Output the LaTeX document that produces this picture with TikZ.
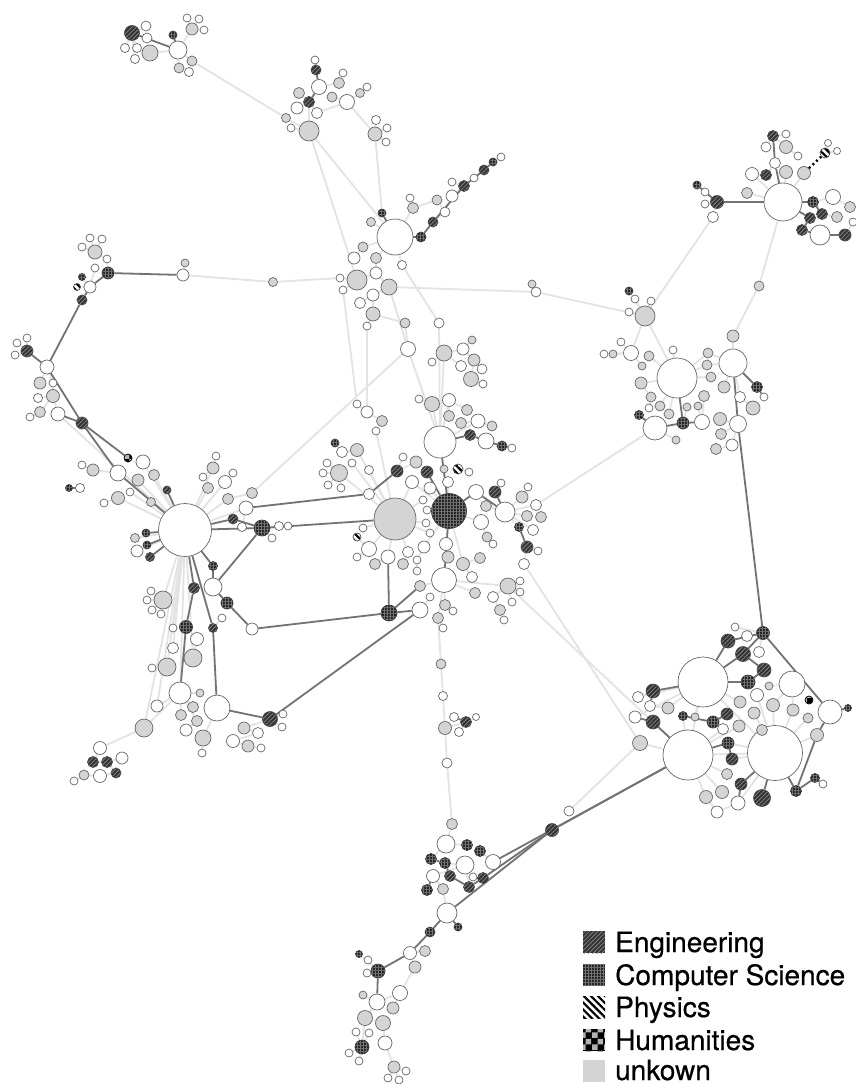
\documentclass[tikz,border=0pt]{standalone}
\usepackage{fontspec}
\newfontfamily\legfont[FakeBold=0.5]{TeX Gyre Heros}
\usetikzlibrary{patterns,patterns.meta}
\pgfdeclarelayer{bg}
\pgfdeclarelayer{edges}
\pgfsetlayers{bg,edges,main}
% \vtx{style}{diameter}{name}{x,y}
\newcommand{\vtx}[4]{\node[#1=#2] (#3) at (#4) {};}
\tikzset{
  nd/.style={circle, draw=black!60, line width=0.7pt, inner sep=0pt, minimum size=#1},
  engfill/.style={preaction={fill=black!80}, pattern={Lines[angle=45,distance=3pt,line width=0.7pt]}, pattern color=black!45},
  csfill/.style={preaction={fill=black!85}, pattern={Hatch[angle=0,distance=3pt,line width=0.45pt]}, pattern color=black!55},
  phyfill/.style={preaction={fill=white}, pattern={Lines[angle=-45,distance=5pt,line width=2.2pt]}, pattern color=black},
  humfill/.style={preaction={fill=black}, pattern=checkerboard, pattern color=white!70!black},
  wn/.style={nd=#1, fill=white},
  gn/.style={nd=#1, fill=black!17},
  en/.style={nd=#1, draw=black!70, engfill},
  cn/.style={nd=#1, draw=black!75, csfill},
  pn/.style={nd=#1, draw=black!70, phyfill},
  hn/.style={nd=#1, draw=black, humfill},
  le/.style={draw=black!11, line width=1.8pt},
  de/.style={draw=black!55, line width=1.8pt},
  lgi/.style={rectangle, inner sep=0pt, minimum size=22pt},
  lgt/.style={anchor=base west, inner sep=0pt, font=\legfont\fontsize{28}{30}\selectfont}
}
\begin{document}
\begin{tikzpicture}[x=1pt,y=-1pt]
\useasboundingbox (0,0) rectangle (856,1084);
\begin{pgfonlayer}{bg}
\fill[white] (0,0) rectangle (856,1084);
\end{pgfonlayer}

% ---- top-left group
\vtx{en}{15}{a1}{132,33}
\vtx{wn}{10}{a2}{146,26}
\vtx{wn}{10}{a3}{147,38}
\vtx{wn}{9}{a4}{125,48}
\vtx{wn}{9}{a5}{137,48}
\vtx{wn}{9}{a6}{135,59}
\vtx{gn}{16}{a7}{150,53}
\vtx{wn}{18}{a8}{178,50}
\vtx{cn}{8}{a9}{173,35}
\vtx{wn}{8}{a10}{187,18}
\vtx{wn}{8}{a11}{199,19}
\vtx{gn}{12}{a12}{192,29}
\vtx{wn}{8}{a13}{204,30}
\vtx{gn}{10}{a14}{192,61}
\vtx{gn}{10}{a15}{179,68}
\vtx{wn}{9}{a16}{189,72}

% ---- upper middle group
\vtx{wn}{8}{b1}{315,60}
\vtx{en}{10}{b2}{316,70}
\vtx{wn}{15}{b3}{319,87}
\vtx{gn}{11}{b4}{339,83}
\vtx{wn}{8}{b5}{343,73}
\vtx{en}{11}{b6}{309,102}
\vtx{wn}{12}{b7}{297,108}
\vtx{gn}{11}{b8}{299,93}
\vtx{wn}{11}{b9}{317,113}
\vtx{gn}{9}{b10}{286,118}
\vtx{wn}{8}{b11}{291,128}
\vtx{gn}{20}{b12}{309,131}
\vtx{gn}{10}{b13}{332,97}
\vtx{wn}{15}{b14}{347,102}
\vtx{gn}{9}{b15}{360,93}
\vtx{wn}{8}{b16}{367,87}
\vtx{gn}{14}{b17}{375,134}
\vtx{wn}{9}{b18}{376,120}
\vtx{wn}{8}{b19}{387,128}
\vtx{wn}{8}{b20}{386,142}

% ---- group around the white hub at (395,237)
\vtx{wn}{36}{c0}{395,237}
\vtx{cn}{8}{c1}{382,213}
\vtx{gn}{11}{c2}{413,208}
\vtx{wn}{8}{c3}{410,198}
\vtx{cn}{10}{c4}{421,237}
\vtx{en}{10}{c5}{433,222}
\vtx{wn}{10}{c6}{445,212}
\vtx{gn}{10}{c7}{437,200}
\vtx{wn}{12}{c8}{452,196}
\vtx{en}{11}{c9}{464,186}
\vtx{wn}{8}{c10}{474,178}
\vtx{en}{10}{c11}{484,170}
\vtx{cn}{8}{c12}{493,162}
\vtx{wn}{8}{c13}{501,157}
\vtx{wn}{8}{c14}{452,182}
\vtx{gn}{9}{c15}{371,222}
\vtx{gn}{10}{c16}{363,247}
\vtx{wn}{12}{c17}{354,258}
\vtx{gn}{11}{c18}{376,258}
\vtx{wn}{12}{c19}{376,273}
\vtx{gn}{16}{c20}{389,287}
\vtx{gn}{20}{c21}{357,280}
\vtx{wn}{8}{c22}{340,278}
\vtx{wn}{8}{c23}{343,290}
\vtx{wn}{12}{c24}{373,295}
\vtx{wn}{11}{c25}{360,303}
\vtx{gn}{14}{c26}{373,314}
\vtx{wn}{8}{c27}{367,326}
\vtx{wn}{9}{c28}{402,265}

% ---- long horizontal chain
\vtx{wn}{12}{m1}{183,275}
\vtx{gn}{8}{m2}{185,263}
\vtx{gn}{9}{m3}{273,282}
\vtx{wn}{10}{s1}{536,292}
\vtx{gn}{8}{s2}{532,284}

% ---- left arc
\vtx{gn}{14}{l1}{95,252}
\vtx{wn}{8}{l2}{90,238}
\vtx{wn}{8}{l3}{102,239}
\vtx{wn}{8}{l4}{82,247}
\vtx{wn}{8}{l5}{107,259}
\vtx{wn}{8}{l6}{95,268}
\vtx{cn}{12}{l7}{108,273}
\vtx{cn}{7}{l8}{82,277}
\vtx{pn}{7}{l9}{77,287}
\vtx{wn}{12}{l10}{90,287}
\vtx{en}{10}{l11}{82,300}
\vtx{en}{12}{l12}{27,351}
\vtx{wn}{8}{l13}{17,343}
\vtx{wn}{8}{l14}{27,338}
\vtx{wn}{8}{l15}{15,355}
\vtx{wn}{14}{l16}{47,367}
\vtx{gn}{12}{l17}{40,383}
\vtx{wn}{8}{l18}{53,383}
\vtx{gn}{13}{l19}{53,396}
\vtx{wn}{9}{l20}{38,398}
\vtx{gn}{11}{l21}{40,412}
\vtx{wn}{8}{l22}{30,417}
\vtx{wn}{14}{l23}{58,414}
\vtx{en}{12}{l24}{82,423}
\vtx{hn}{8}{l25}{128,458}
\vtx{wn}{14}{l26}{143,462}
\vtx{wn}{16}{l27}{118,473}
\vtx{gn}{12}{l28}{93,470}
\vtx{wn}{8}{l29}{82,465}
\vtx{gn}{12}{l30}{138,480}
\vtx{gn}{11}{l31}{154,475}
\vtx{en}{8}{l32}{167,490}
\vtx{cn}{7}{l33}{69,488}
\vtx{wn}{9}{l34}{80,488}

% ---- left hub
\vtx{wn}{53}{h}{185,530}
\vtx{cn}{8}{h1}{146,533}
\vtx{cn}{8}{h2}{147,545}
\vtx{en}{9}{h3}{150,557}
\vtx{gn}{9}{h4}{135,538}
\vtx{wn}{12}{h5}{137,551}
\vtx{en}{10}{h6}{233,519}
\vtx{wn}{14}{h7}{246,508}
\vtx{wn}{9}{h8}{242,527}
\vtx{cn}{16}{h9}{262,528}
\vtx{wn}{9}{h10}{279,526}
\vtx{wn}{8}{h11}{288,526}
\vtx{wn}{8}{h12}{272,538}
\vtx{cn}{9}{h13}{213,566}
\vtx{wn}{18}{h14}{213,587}
\vtx{en}{11}{h15}{194,588}
\vtx{cn}{12}{h16}{227,603}
\vtx{gn}{18}{h17}{163,600}
\vtx{wn}{8}{h18}{151,591}
\vtx{wn}{8}{h19}{147,600}
\vtx{wn}{8}{h20}{152,610}
\vtx{wn}{8}{h21}{161,614}
\vtx{gn}{12}{h22}{213,468}
\vtx{wn}{8}{h23}{216,456}
\vtx{wn}{8}{h24}{203,477}
\vtx{wn}{13}{h25}{225,482}
\vtx{wn}{8}{h26}{233,473}
\vtx{gn}{11}{h27}{208,488}
\vtx{gn}{11}{h28}{228,499}
\vtx{gn}{11}{h29}{252,493}
\vtx{wn}{8}{h31}{130,492}
\vtx{gn}{13}{h32}{118,498}
\vtx{wn}{8}{h33}{104,503}
\vtx{gn}{9}{h34}{151,502}

% ---- below the left hub
\vtx{wn}{8}{k1}{222,618}
\vtx{en}{9}{k2}{213,628}
\vtx{wn}{12}{k3}{252,629}
\vtx{wn}{13}{k4}{197,639}
\vtx{cn}{13}{k5}{186,627}
\vtx{wn}{8}{k6}{173,628}
\vtx{wn}{11}{k7}{173,648}
\vtx{gn}{18}{k8}{167,667}
\vtx{gn}{18}{k9}{193,658}
\vtx{wn}{8}{k10}{152,668}
\vtx{wn}{22}{k11}{180,693}
\vtx{gn}{8}{k12}{200,693}
\vtx{gn}{11}{k13}{193,707}
\vtx{gn}{11}{k14}{181,715}
\vtx{gn}{11}{k15}{197,721}
\vtx{wn}{12}{k16}{186,730}
\vtx{gn}{16}{k17}{203,738}
\vtx{wn}{8}{k18}{202,753}
\vtx{wn}{12}{k19}{157,706}
\vtx{gn}{18}{k20}{144,728}
\vtx{wn}{26}{k21}{217,708}
\vtx{en}{15}{k22}{270,719}
\vtx{wn}{8}{k23}{283,714}
\vtx{wn}{8}{k24}{282,727}
\vtx{gn}{12}{k25}{244,728}
\vtx{wn}{11}{k26}{258,733}
\vtx{wn}{13}{k27}{233,741}
\vtx{gn}{12}{k28}{248,746}
\vtx{wn}{8}{k29}{261,748}
\vtx{wn}{13}{k30}{100,748}
\vtx{en}{11}{k31}{93,762}
\vtx{en}{11}{k32}{107,762}
\vtx{wn}{12}{k33}{122,758}
\vtx{en}{10}{k34}{116,773}
\vtx{wn}{13}{k35}{100,776}
\vtx{gn}{10}{k36}{84,775}
\vtx{wn}{8}{k37}{74,781}

% ---- central group
\vtx{gn}{42}{g0}{395,519}
\vtx{cn}{35}{g1}{449,511}
\vtx{wn}{32}{d1}{440,442}
\vtx{en}{11}{d2}{470,435}
\vtx{wn}{16}{d3}{486,441}
\vtx{cn}{10}{d4}{502,446}
\vtx{wn}{8}{d5}{512,448}
\vtx{cn}{8}{d6}{335,443}
\vtx{wn}{11}{d7}{342,452}
\vtx{gn}{13}{d8}{357,450}
\vtx{wn}{8}{d9}{327,463}
\vtx{gn}{17}{d10}{339,473}
\vtx{wn}{8}{d11}{323,473}
\vtx{wn}{8}{d12}{328,485}
\vtx{wn}{8}{d13}{341,488}
\vtx{wn}{8}{d14}{352,463}
\vtx{wn}{9}{d15}{369,470}
\vtx{en}{12}{d16}{397,471}
\vtx{wn}{8}{d17}{403,457}
\vtx{gn}{12}{d18}{416,462}
\vtx{en}{12}{d19}{427,472}
\vtx{pn}{10}{d20}{458,469}
\vtx{wn}{8}{d21}{469,472}
\vtx{gn}{8}{d22}{444,469}
\vtx{wn}{13}{d23}{412,482}
\vtx{wn}{12}{d24}{430,488}
\vtx{wn}{11}{d25}{448,482}
\vtx{wn}{11}{d26}{369,494}
\vtx{wn}{8}{d27}{423,500}
\vtx{wn}{8}{d28}{427,510}
\vtx{wn}{15}{d29}{476,492}
\vtx{en}{12}{d30}{495,492}
\vtx{wn}{8}{d31}{501,483}
\vtx{wn}{20}{d32}{505,512}
\vtx{gn}{11}{d33}{486,506}
\vtx{gn}{12}{d34}{522,497}
\vtx{wn}{8}{d35}{528,487}
\vtx{wn}{11}{d36}{536,505}
\vtx{gn}{11}{d37}{527,516}
\vtx{gn}{11}{d38}{541,517}
\vtx{wn}{11}{d39}{533,530}
\vtx{cn}{9}{d40}{519,527}
\vtx{en}{12}{d41}{527,547}
\vtx{wn}{8}{d42}{538,551}
\vtx{wn}{11}{d43}{524,564}
\vtx{wn}{15}{d44}{481,522}
\vtx{gn}{10}{d45}{487,537}
\vtx{wn}{8}{d46}{493,544}
\vtx{wn}{8}{d47}{426,523}
\vtx{wn}{8}{d48}{430,533}
\vtx{wn}{12}{d49}{424,547}
\vtx{wn}{11}{d50}{408,552}
\vtx{gn}{11}{d51}{403,564}
\vtx{wn}{8}{d52}{417,560}
\vtx{wn}{8}{d53}{417,571}
\vtx{wn}{13}{d54}{446,544}
\vtx{gn}{12}{d55}{448,557}
\vtx{gn}{13}{d56}{463,564}
\vtx{gn}{11}{d57}{480,558}
\vtx{wn}{11}{d58}{472,577}
\vtx{wn}{25}{d59}{444,580}
\vtx{wn}{15}{d60}{369,549}
\vtx{wn}{14}{d61}{388,557}
\vtx{wn}{8}{d62}{357,557}
\vtx{gn}{11}{d63}{375,564}
\vtx{pn}{8}{d64}{357,537}
\vtx{wn}{8}{d65}{363,528}
\vtx{cn}{16}{d66}{389,613}
\vtx{wn}{16}{d67}{420,610}
\vtx{gn}{11}{d68}{420,586}
\vtx{wn}{8}{d69}{430,597}
\vtx{gn}{11}{d70}{445,605}
\vtx{wn}{8}{d71}{453,611}
\vtx{gn}{16}{d72}{508,586}
\vtx{wn}{8}{d73}{520,581}
\vtx{wn}{8}{d74}{520,592}
\vtx{wn}{11}{d75}{493,597}
\vtx{gn}{11}{d76}{500,610}
\vtx{wn}{8}{d77}{512,602}
\vtx{gn}{11}{d78}{475,593}
\vtx{gn}{11}{d79}{438,618}
\vtx{wn}{8}{d80}{443,628}
\vtx{wn}{8}{d81}{504,620}

% ---- above the central group
\vtx{gn}{10}{e4}{405,323}
\vtx{wn}{10}{e5}{439,323}
\vtx{wn}{15}{e6}{408,349}
\vtx{gn}{16}{e7}{444,353}
\vtx{wn}{8}{e8}{432,362}
\vtx{wn}{12}{e9}{463,349}
\vtx{gn}{8}{e10}{472,340}
\vtx{gn}{12}{e11}{474,360}
\vtx{wn}{11}{e12}{461,366}
\vtx{wn}{10}{e13}{482,369}
\vtx{gn}{15}{e14}{471,379}
\vtx{wn}{8}{e15}{483,384}
\vtx{wn}{8}{e16}{357,404}
\vtx{wn}{12}{e17}{367,412}
\vtx{gn}{11}{e18}{382,421}
\vtx{wn}{8}{e19}{376,431}
\vtx{gn}{15}{e20}{432,404}
\vtx{wn}{8}{e21}{419,399}
\vtx{wn}{13}{e22}{449,400}
\vtx{gn}{11}{e23}{449,416}
\vtx{gn}{11}{e24}{467,410}
\vtx{wn}{14}{e25}{478,421}
\vtx{gn}{11}{e26}{461,423}
\vtx{gn}{10}{e27}{492,426}

% ---- vertical chain below the centre
\vtx{gn}{10}{n1}{441,664}
\vtx{wn}{9}{n2}{443,696}
\vtx{wn}{9}{n3}{454,717}
\vtx{en}{11}{n4}{466,722}
\vtx{wn}{7}{n5}{476,717}
\vtx{gn}{13}{n6}{445,728}
\vtx{wn}{10}{n7}{447,763}
\vtx{wn}{9}{n8}{459,732}

% ---- bottom group
\vtx{gn}{11}{p1}{452,824}
\vtx{wn}{18}{p2}{446,844}
\vtx{cn}{11}{p3}{467,845}
\vtx{cn}{11}{p4}{480,851}
\vtx{wn}{18}{p5}{465,865}
\vtx{wn}{15}{p6}{493,862}
\vtx{cn}{11}{p7}{431,859}
\vtx{cn}{11}{p8}{445,863}
\vtx{wn}{13}{p9}{433,876}
\vtx{en}{11}{p10}{450,876}
\vtx{en}{11}{p11}{483,878}
\vtx{wn}{8}{p12}{473,877}
\vtx{cn}{11}{p13}{427,890}
\vtx{gn}{11}{p14}{443,889}
\vtx{en}{11}{p15}{469,887}
\vtx{wn}{20}{p16}{447,913}
\vtx{cn}{8}{p17}{458,927}
\vtx{cn}{10}{p18}{430,932}
\vtx{en}{13}{p19}{552,830}
\vtx{wn}{10}{p20}{569,811}
\vtx{wn}{13}{q1}{410,953}
\vtx{gn}{11}{q2}{425,951}
\vtx{gn}{12}{q3}{415,967}
\vtx{cn}{14}{q4}{378,971}
\vtx{cn}{7}{q5}{359,954}
\vtx{wn}{8}{q6}{368,960}
\vtx{wn}{8}{q7}{367,973}
\vtx{gn}{8}{q8}{363,995}
\vtx{wn}{16}{q9}{377,1002}
\vtx{wn}{15}{q10}{400,993}
\vtx{gn}{12}{q11}{393,1008}
\vtx{gn}{15}{q12}{365,1018}
\vtx{gn}{15}{q13}{383,1023}
\vtx{wn}{8}{q14}{356,1032}
\vtx{wn}{8}{q15}{369,1033}
\vtx{cn}{14}{q16}{362,1047}
\vtx{wn}{14}{q17}{385,1043}
\vtx{wn}{8}{q18}{349,1053}
\vtx{wn}{8}{q19}{359,1061}
\vtx{gn}{12}{q20}{394,1067}
\vtx{wn}{8}{q21}{406,1071}
\vtx{wn}{8}{q22}{388,1078}
\vtx{wn}{8}{q23}{399,1080}

% ---- right middle group
\vtx{wn}{40}{r0}{677,378}
\vtx{cn}{8}{r1}{629,291}
\vtx{wn}{8}{r2}{635,299}
\vtx{wn}{8}{r3}{651,301}
\vtx{wn}{8}{r4}{629,312}
\vtx{gn}{20}{r5}{645,316}
\vtx{gn}{10}{r6}{759,286}
\vtx{gn}{12}{r7}{733,336}
\vtx{wn}{8}{r8}{621,342}
\vtx{gn}{8}{r9}{613,354}
\vtx{wn}{8}{r10}{604,354}
\vtx{wn}{15}{r11}{631,353}
\vtx{gn}{10}{r12}{649,356}
\vtx{gn}{8}{r13}{642,366}
\vtx{wn}{8}{r14}{673,350}
\vtx{wn}{28}{r15}{733,363}
\vtx{gn}{10}{r16}{708,353}
\vtx{gn}{10}{r17}{707,365}
\vtx{gn}{10}{r18}{711,377}
\vtx{cn}{11}{r19}{757,387}
\vtx{wn}{8}{r20}{764,397}
\vtx{wn}{11}{r21}{740,397}
\vtx{gn}{14}{r22}{753,408}
\vtx{gn}{12}{r23}{724,387}
\vtx{gn}{12}{r24}{641,383}
\vtx{gn}{10}{r25}{651,397}
\vtx{wn}{8}{r26}{649,408}
\vtx{gn}{10}{r27}{660,406}
\vtx{gn}{10}{r28}{669,414}
\vtx{cn}{9}{r29}{639,415}
\vtx{wn}{24}{r30}{655,428}
\vtx{cn}{12}{r31}{683,423}
\vtx{wn}{15}{r32}{702,422}
\vtx{gn}{8}{r33}{687,407}
\vtx{gn}{8}{r34}{698,406}
\vtx{gn}{11}{r35}{704,396}
\vtx{gn}{13}{r36}{720,419}
\vtx{wn}{17}{r37}{738,424}
\vtx{gn}{11}{r38}{721,434}
\vtx{wn}{12}{r39}{732,445}
\vtx{gn}{11}{r40}{716,449}
\vtx{gn}{8}{r41}{676,440}

% ---- top-right group
\vtx{en}{11}{t1}{773,136}
\vtx{wn}{8}{t2}{786,134}
\vtx{wn}{10}{t3}{766,147}
\vtx{gn}{13}{t4}{786,147}
\vtx{wn}{8}{t5}{798,156}
\vtx{wn}{11}{t6}{775,163}
\vtx{en}{11}{t7}{766,175}
\vtx{wn}{13}{t8}{752,174}
\vtx{gn}{13}{t9}{786,172}
\vtx{gn}{13}{t10}{804,173}
\vtx{pn}{10}{t11}{825,153}
\vtx{wn}{7}{t12}{828,143}
\vtx{wn}{7}{t13}{837,151}
\vtx{gn}{11}{t17}{747,193}
\vtx{wn}{38}{e0}{783,202}
\vtx{cn}{8}{t18}{697,185}
\vtx{wn}{8}{t19}{705,192}
\vtx{wn}{8}{t20}{705,204}
\vtx{en}{13}{t21}{717,202}
\vtx{wn}{11}{t22}{713,217}
\vtx{cn}{11}{t23}{813,202}
\vtx{wn}{15}{t24}{833,197}
\vtx{gn}{11}{t25}{850,207}
\vtx{en}{11}{t26}{822,214}
\vtx{gn}{11}{t27}{837,217}
\vtx{en}{11}{t28}{810,218}
\vtx{en}{11}{t29}{802,230}
\vtx{wn}{20}{t30}{820,235}
\vtx{en}{12}{t31}{845,235}
\vtx{wn}{8}{t32}{853,222}

% ---- lower-right dense group
\vtx{wn}{50}{f1}{703,682}
\vtx{wn}{50}{f2}{688,755}
\vtx{wn}{55}{f3}{775,753}
\vtx{wn}{26}{f4}{792,684}
\vtx{wn}{24}{f5}{830,712}
\vtx{cn}{7}{f6}{848,708}
\vtx{hn}{8}{f7}{809,700}
\vtx{cn}{13}{f8}{763,633}
\vtx{wn}{8}{f9}{735,627}
\vtx{en}{14}{f10}{728,641}
\vtx{wn}{11}{f11}{747,636}
\vtx{en}{15}{f12}{743,654}
\vtx{wn}{11}{f13}{759,652}
\vtx{en}{14}{f14}{764,670}
\vtx{cn}{14}{f15}{748,682}
\vtx{gn}{8}{f16}{769,686}
\vtx{en}{14}{f17}{653,691}
\vtx{wn}{11}{f18}{638,697}
\vtx{wn}{11}{f19}{650,706}
\vtx{wn}{12}{f20}{635,717}
\vtx{en}{14}{f21}{653,722}
\vtx{gn}{12}{f22}{668,708}
\vtx{gn}{15}{f23}{640,743}
\vtx{cn}{9}{f24}{683,716}
\vtx{gn}{8}{f25}{695,717}
\vtx{cn}{12}{f26}{713,722}
\vtx{en}{12}{f27}{727,714}
\vtx{gn}{12}{f28}{740,702}
\vtx{wn}{13}{f29}{757,695}
\vtx{gn}{13}{f30}{773,705}
\vtx{gn}{12}{f31}{793,710}
\vtx{gn}{10}{f32}{808,718}
\vtx{gn}{13}{f33}{817,735}
\vtx{wn}{11}{f34}{723,729}
\vtx{gn}{12}{f35}{739,726}
\vtx{gn}{12}{f36}{754,713}
\vtx{gn}{11}{f37}{762,730}
\vtx{cn}{12}{f38}{728,743}
\vtx{en}{12}{f39}{732,759}
\vtx{gn}{11}{f40}{727,774}
\vtx{en}{12}{f41}{741,784}
\vtx{cn}{11}{f42}{796,791}
\vtx{cn}{9}{f43}{815,778}
\vtx{wn}{8}{f44}{823,784}
\vtx{gn}{13}{f45}{706,797}
\vtx{gn}{13}{f46}{722,792}
\vtx{wn}{14}{f47}{738,803}
\vtx{en}{17}{f48}{762,798}
\vtx{wn}{12}{f49}{717,812}

% ---- connectors
\begin{pgfonlayer}{edges}
\foreach \u/\v in {a8/a7,a8/a12,a8/a14,a8/a15,a1/a2,a1/a3,a1/a4,a1/a5,a1/a6,a7/a5,a12/a10,a12/a11,a12/a13,a14/a16,a14/b10,
 b3/b4,b4/b5,b6/b7,b6/b8,b6/b9,b6/b12,b12/b10,b12/b11,b9/b14,b14/b13,b14/b15,b15/b16,b14/b17,b17/b18,b17/b19,b17/b20,b12/c0,b17/c1,b12/c21,
 c0/c15,c0/c16,c16/c17,c0/c18,c18/c19,c19/c21,c21/c22,c21/c23,c19/c20,c20/c24,c24/c25,c24/c26,c26/c27,c0/c28,c5/c6,c6/c7,c7/c2,c2/c3,c0/c2,c8/c9,c9/c14,c10/c11,c12/c13,
 m1/m2,m1/m3,m3/c22,c20/s1,s1/s2,s1/r5,
 c23/e16,c20/e6,e6/d1,c28/e5,e5/d1,c27/e17,c26/e4,e4/e6,h29/e6,
 e7/d1,e7/e9,e9/e10,e9/e11,e7/e12,e11/e13,e11/e14,e14/e15,e20/d1,e20/e21,e22/e20,e22/d1,e22/e23,e22/e24,e25/d1,e25/e26,e25/e27,e16/e17,e17/e18,e18/e19,e19/g0,e8/e7}
 \draw[le] (\u) -- (\v);
\foreach \u/\v in {d6/d7,d7/d8,d8/g0,d10/d9,d10/d11,d10/d12,d10/d13,d14/g0,d15/g0,d10/g0,d17/d16,d18/d16,d22/g1,d21/d20,d23/g1,d24/g1,d25/g1,d23/g0,d27/g0,d28/g1,d31/d30,d33/d32,d34/d32,d35/d34,d36/d32,d37/d32,d38/d36,d39/d32,d42/d41,d43/d41,d44/g1,d45/d44,d46/d45,d47/g0,d48/g0,d49/g1,d50/g0,d51/d50,d52/d49,d53/d52,d54/g1,d55/d54,d56/g1,d57/d56,d58/d56,d62/d60,d63/d61,d64/d60,d65/g0,d60/g0,d61/g0,d68/d59,d69/d67,d70/d59,d71/d70,d72/d59,d73/d72,d74/d72,d75/d72,d76/d75,d77/d72,d78/d59,d32/d40,d76/d81,
 d59/d79,d79/d80,d79/n1,n1/n2,n2/n6,n6/n7,n7/p1,n6/n4,n4/n5,n4/n8,
 d36/r30,d43/f23,d72/f2,p20/f23}
 \draw[le] (\u) -- (\v);
\foreach \u/\v in {h/h4,h/h5,h/h7,h7/h8,h9/h10,h9/h11,h9/h12,h/h22,h22/h23,h22/h24,h/h25,h25/h26,h/h27,h/h28,h28/h29,h/l30,h/l31,h/h34,h/h31,h/h32,h32/h33,h/l26,l23/h,h/h17,h17/h18,h17/h19,h17/h20,h17/h21,l28/l29,l27/l28,
 l7/l5,l5/l1,l1/l2,l1/l3,l1/l4,l10/l6,l10/l8,l10/l9,l12/l13,l12/l14,l12/l15,l16/l17,l16/l18,l18/l19,l19/l20,l19/l21,l21/l22,l19/l23,
 h/k6,h/k7,h/k8,h/k9,k9/k4,k11/k12,k11/k13,k11/k14,k11/k15,k15/k16,k11/k19,k11/k20,k20/k30,k30/k31,k31/k32,k32/k33,k32/k34,k34/k35,k35/k36,k36/k37,k21/k17,k17/k18,k22/k23,k22/k24,k22/k25,k25/k26,k26/k27,k27/k28,k28/k29,k8/k10,h/k11,h/k20,h/k19,k2/k1}
 \draw[le] (\u) -- (\v);
\foreach \u/\v in {p1/p2,p2/p3,p2/p7,p5/p8,p5/p9,p5/p12,p5/p15,p9/p13,p9/p14,p14/p16,p12/p11,p4/p6,
 q1/q2,q1/q3,q4/q5,q4/q6,q4/q7,q9/q8,q9/q10,q10/q11,q3/q10,q9/q12,q12/q13,q13/q17,q12/q16,q16/q14,q16/q15,q16/q18,q16/q19,q17/q20,q20/q21,q20/q22,q20/q23,
 r5/r1,r5/r2,r5/r3,r5/r4,r5/r0,r5/r11,r11/r8,r11/r9,r11/r10,r12/r0,r11/r13,r0/r14,r0/r16,r0/r17,r0/r18,r15/r16,r15/r17,r15/r7,r7/r6,r0/r24,r24/r25,r25/r26,r0/r27,r0/r28,r30/r41,r37/r36,r37/r38,r37/r39,r39/r40,r15/r23,r15/r21,r21/r22,r31/r33,r32/r34,r32/r35,
 e0/t8,e0/t9,e0/t10,e0/t17,t7/t8,t7/t6,t3/t1,t2/t1,t4/t1,t5/t4,t21/t19,t21/t20,t21/t22,t24/t23,t24/t25,t31/t32,t22/r5,e0/r6,t26/t27,t11/t12,t11/t13,
 f1/f2,f1/f3,f2/f3,f2/f23,f2/f45,f2/f46,f3/f30,f3/f31,f3/f37,f3/f36,f3/f47,f1/f28,f1/f22,f1/f25,f2/f34,f2/f35,f2/f40,f3/f29,f4/f16,f4/f31,f4/f30,f3/f32,f3/f33,f1/f18,f1/f20,f8/f9,f8/f11,f8/f13,f2/f24,f3/f38,f3/f39,f45/f49,f47/f49,f17/f18,f19/f22}
 \draw[le] (\u) -- (\v);
\foreach \u/\v in {a8/a1,a9/a8,b1/b2,b2/b3,b3/b6,
 c1/c0,c0/c4,c4/c5,c5/c9,c9/c11,c11/c12,
 l7/m1,l7/l10,l10/l11,l11/l16,l16/l12,l16/l24,l24/l25,l24/l27,l23/l24,l27/h,l32/h,l33/l34,
 h/h1,h/h2,h/h3,h/h6,h6/h9,h/h9,h9/h14,h/h13,h13/h14,h14/h16,h/h15,h15/k5,k5/k11,h/k2,k2/k21,k21/k22,k22/d67,h16/k3,k3/d66,
 h9/g0,h7/d26,d26/d16,
 d1/g1,g1/d59,g1/d29,d29/d32,d1/d2,d2/d3,d3/d4,d4/d5,d61/d66,d66/d67,d66/d68,d19/g1,d30/d32,d40/d41,
 n4/n3,
 p16/p18,p18/q1,q1/q4,q4/q9,p16/p17,p16/p19,p11/p19,p19/f2,p6/f2,p7/p8,p8/p10,p10/p15,p13/p9,p11/p15,
 r15/r19,r19/r20,r15/r37,r37/f8,r0/r31,r31/r30,r31/r32,r29/r30,
 e0/t21,t21/t18,e0/t6,t6/t1,e0/t23,t23/t26,e0/t28,t28/t29,t29/t30,t30/t31,
 f8/f5,f8/f10,f8/f12,f10/f1,f12/f1,f12/f14,f14/f15,f15/f1,f1/f17,f17/f19,f21/f2,f21/f20,f3/f48,f3/f42,f42/f43,f43/f44,f5/f33,f33/f42,f41/f47,f3/f41,f2/f38,f38/f39,f26/f27,f24/f26,f5/f6}
 \draw[de] (\u) -- (\v);
\draw[draw=black, line width=2.4pt, dash pattern=on 2pt off 3pt] (t10) -- (t11);
\end{pgfonlayer}

% ---- legend
\node[lgi, engfill] (lg1) at (594,942) {};
\node[lgi, csfill] (lg2) at (594,975) {};
\node[lgi, phyfill] (lg3) at (594,1007) {};
\node[lgi, humfill] (lg4) at (594,1040) {};
\node[lgi, fill=black!17] (lg5) at (594,1071) {};
\node[lgt] (lt1) at (615,952) {Engineering};
\node[lgt] (lt2) at (615,985) {Computer Science};
\node[lgt] (lt3) at (615,1017) {Physics};
\node[lgt] (lt4) at (615,1050) {Humanities};
\node[lgt] (lt5) at (615,1080) {unkown};
\end{tikzpicture}
\end{document}
